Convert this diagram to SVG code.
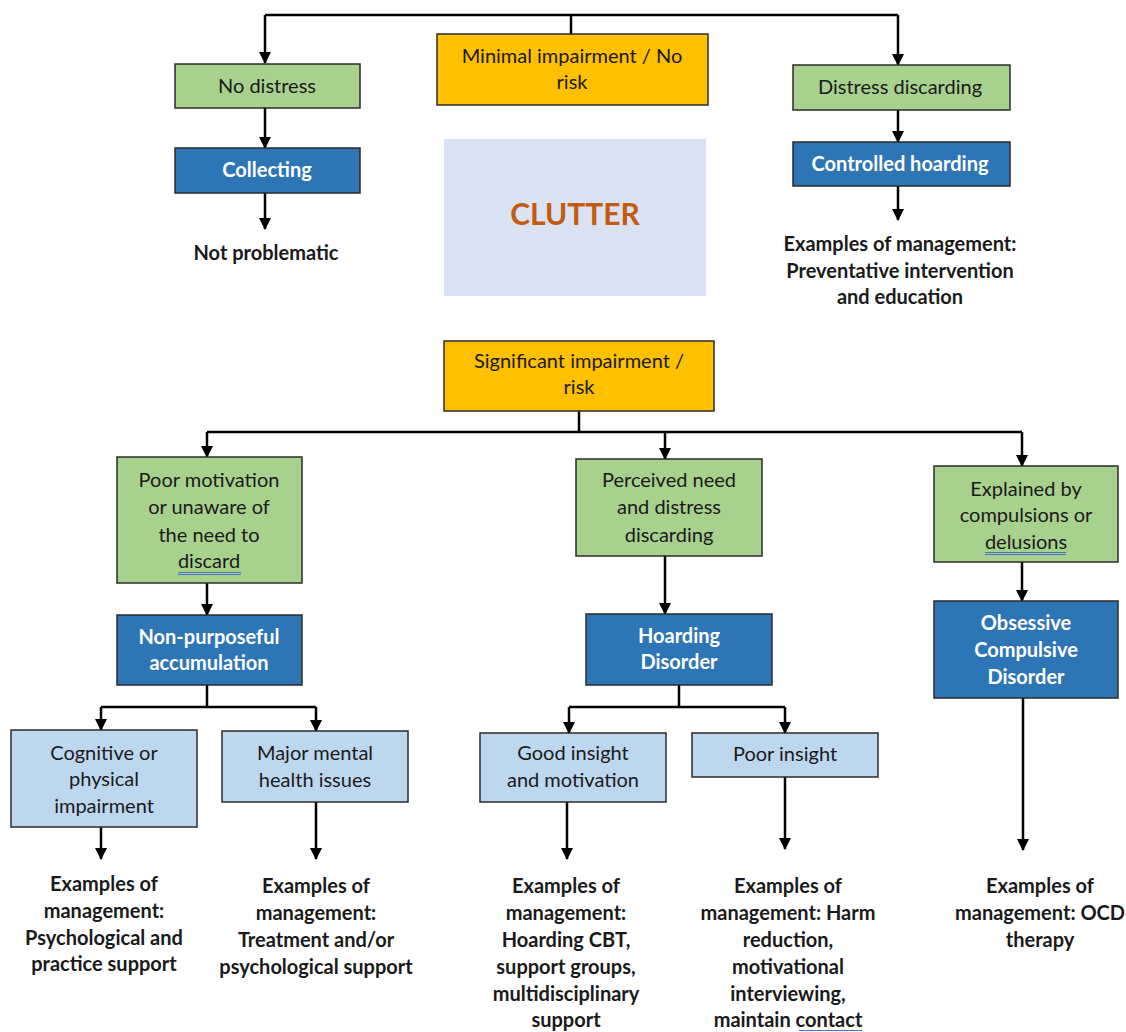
<svg xmlns="http://www.w3.org/2000/svg" width="1126" height="1032" viewBox="0 0 1126 1032">
<defs>
<marker id="ah" markerUnits="userSpaceOnUse" markerWidth="12" markerHeight="12" refX="11" refY="6" orient="auto">
<path d="M0,0 L12,6 L0,12 z" fill="#000"/>
</marker>
<style>
.box{stroke:#2b2b2b;stroke-width:1.5}
.g{fill:#a9d18e}.b{fill:#2e75b6}.y{fill:#ffc000}.l{fill:#bdd7ee}
text{font-family:Lato,"Liberation Sans",sans-serif;font-size:20px;text-anchor:middle;fill:#1a1a1a}
.w{fill:#fff;font-weight:bold}
.k{font-weight:bold;fill:#1a1a1a}
.c{fill:none;stroke:#000;stroke-width:2.5}
.u{stroke:#4472c4;stroke-width:1}
</style>
</defs>
<rect x="444" y="139" width="262" height="157" fill="#dae3f3"/>
<text x="575" y="225" style="font-size:30px;font-weight:bold;fill:#c55a11">CLUTTER</text>
<g id="connectors">
<path class="c" d="M571,34 V15"/>
<path class="c" d="M265,15 H898"/>
<path class="c" d="M265,15 V63" marker-end="url(#ah)"/>
<path class="c" d="M898,15 V65" marker-end="url(#ah)"/>
<path class="c" d="M265,108 V148" marker-end="url(#ah)"/>
<path class="c" d="M265,193 V229" marker-end="url(#ah)"/>
<path class="c" d="M898,110 V142" marker-end="url(#ah)"/>
<path class="c" d="M898,186 V220" marker-end="url(#ah)"/>
<path class="c" d="M579,411 V432"/>
<path class="c" d="M207,432 H1022"/>
<path class="c" d="M207,432 V457" marker-end="url(#ah)"/>
<path class="c" d="M665,432 V459" marker-end="url(#ah)"/>
<path class="c" d="M1022,432 V466" marker-end="url(#ah)"/>
<path class="c" d="M207,583 V615" marker-end="url(#ah)"/>
<path class="c" d="M665,556 V614" marker-end="url(#ah)"/>
<path class="c" d="M1022,562 V601" marker-end="url(#ah)"/>
<path class="c" d="M207,685 V707"/>
<path class="c" d="M101,707 H316"/>
<path class="c" d="M101,707 V730" marker-end="url(#ah)"/>
<path class="c" d="M316,707 V731" marker-end="url(#ah)"/>
<path class="c" d="M679,685 V707"/>
<path class="c" d="M569,707 H785"/>
<path class="c" d="M569,707 V733" marker-end="url(#ah)"/>
<path class="c" d="M785,707 V733" marker-end="url(#ah)"/>
<path class="c" d="M101,827 V859" marker-end="url(#ah)"/>
<path class="c" d="M316,802 V859" marker-end="url(#ah)"/>
<path class="c" d="M567,802 V859" marker-end="url(#ah)"/>
<path class="c" d="M785,777 V849" marker-end="url(#ah)"/>
<path class="c" d="M1023,698 V850" marker-end="url(#ah)"/>
</g>
<g id="minimal"><rect class="box y" x="437" y="34" width="271" height="71"/><text x="572" y="63">Minimal impairment / No</text><text x="572" y="89">risk</text></g>
<g id="nodistress"><rect class="box g" x="175" y="64" width="185" height="44"/><text x="267" y="93">No distress</text></g>
<g id="collecting"><rect class="box b" x="175" y="148" width="185" height="45"/><text class="w" x="267" y="177">Collecting</text></g>
<g id="notproblematic"><text class="k" x="266" y="260">Not problematic</text></g>
<g id="distressdiscarding"><rect class="box g" x="793" y="65" width="217" height="45"/><text x="900" y="94">Distress discarding</text></g>
<g id="controlled"><rect class="box b" x="793" y="142" width="217" height="44"/><text class="w" x="900" y="171">Controlled hoarding</text></g>
<g id="ex-controlled"><text class="k" x="900" y="251">Examples of management:</text><text class="k" x="900" y="278">Preventative intervention</text><text class="k" x="900" y="304">and education</text></g>
<g id="significant"><rect class="box y" x="444" y="341" width="270" height="70"/><text x="579" y="368">Significant impairment /</text><text x="579" y="394">risk</text></g>
<g id="poormotivation"><rect class="box g" x="117" y="457" width="185" height="126"/><text x="209" y="487">Poor motivation</text><text x="209" y="514">or unaware of</text><text x="209" y="542">the need to</text><text x="209" y="568">discard</text><path class="u" d="M178,572.5 H241 M178,574.5 H241"/></g>
<g id="nonpurposeful"><rect class="box b" x="117" y="615" width="185" height="70"/><text class="w" x="209" y="644">Non-purposeful</text><text class="w" x="209" y="670">accumulation</text></g>
<g id="cognitive"><rect class="box l" x="11" y="730" width="186" height="97"/><text x="104" y="760">Cognitive or</text><text x="104" y="786">physical</text><text x="104" y="813">impairment</text></g>
<g id="major"><rect class="box l" x="222" y="731" width="186" height="71"/><text x="315" y="760">Major mental</text><text x="315" y="787">health issues</text></g>
<g id="ex-cognitive"><text class="k" x="104" y="891">Examples of</text><text class="k" x="104" y="918">management:</text><text class="k" x="104" y="945">Psychological and</text><text class="k" x="104" y="971">practice support</text></g>
<g id="ex-major"><text class="k" x="316" y="893">Examples of</text><text class="k" x="316" y="920">management:</text><text class="k" x="316" y="947">Treatment and/or</text><text class="k" x="316" y="974">psychological support</text></g>
<g id="perceived"><rect class="box g" x="576" y="459" width="186" height="97"/><text x="669" y="487">Perceived need</text><text x="669" y="514">and distress</text><text x="669" y="542">discarding</text></g>
<g id="hoarding"><rect class="box b" x="586" y="614" width="186" height="71"/><text class="w" x="679" y="643">Hoarding</text><text class="w" x="679" y="669">Disorder</text></g>
<g id="goodinsight"><rect class="box l" x="480" y="733" width="186" height="69"/><text x="573" y="760">Good insight</text><text x="573" y="787">and motivation</text></g>
<g id="poorinsight"><rect class="box l" x="692" y="733" width="186" height="44"/><text x="785" y="761">Poor insight</text></g>
<g id="ex-good"><text class="k" x="566" y="893">Examples of</text><text class="k" x="566" y="920">management:</text><text class="k" x="566" y="947">Hoarding CBT,</text><text class="k" x="566" y="974">support groups,</text><text class="k" x="566" y="1001">multidisciplinary</text><text class="k" x="566" y="1027">support</text></g>
<g id="ex-poor"><text class="k" x="788" y="893">Examples of</text><text class="k" x="788" y="920">management: Harm</text><text class="k" x="788" y="947">reduction,</text><text class="k" x="788" y="974">motivational</text><text class="k" x="788" y="1001">interviewing,</text><text class="k" x="788" y="1027">maintain contact</text><path class="u" d="M799,1030.5 H862"/></g>
<g id="explained"><rect class="box g" x="934" y="466" width="184" height="96"/><text x="1026" y="496">Explained by</text><text x="1026" y="522">compulsions or</text><text x="1026" y="549">delusions</text><path class="u" d="M985,552.5 H1066 M985,554.5 H1066"/></g>
<g id="ocd"><rect class="box b" x="934" y="601" width="184" height="97"/><text class="w" x="1026" y="630">Obsessive</text><text class="w" x="1026" y="657">Compulsive</text><text class="w" x="1026" y="684">Disorder</text></g>
<g id="ex-ocd"><text class="k" x="1040" y="893">Examples of</text><text class="k" x="1040" y="920">management: OCD</text><text class="k" x="1040" y="947">therapy</text></g>
</svg>
